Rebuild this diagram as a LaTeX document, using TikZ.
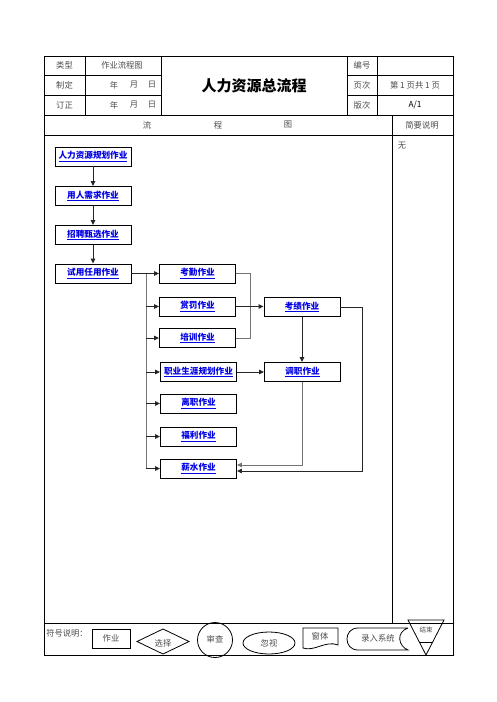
\documentclass[tikz,border=0pt]{standalone}
\usepackage{fontspec}
\newfontfamily\cjk{Noto Sans CJK SC}
\usetikzlibrary{arrows.meta,shapes.geometric}
\begin{document}
\begin{tikzpicture}[x=1pt,y=-1pt,
  tbl/.style={line width=0.8pt, draw=black},
  cell/.style={font=\cjk\fontsize{8.3}{10}\selectfont, text=black!70, inner sep=0pt},
  titletext/.style={font=\cjk\bfseries\fontsize{15}{18}\selectfont, text=black, inner sep=0pt},
  flowbox/.style={draw, line width=0.9pt, minimum width=76pt, minimum height=19pt, inner sep=0pt,
    font=\cjk\bfseries\fontsize{8.6}{10}\selectfont, text=blue!90!black},
  conn/.style={line width=1pt, draw=black!85},
  greyconn/.style={line width=1pt, draw=black!55},
  arr/.style={conn, -{Triangle[length=5pt,width=4.5pt]}},
  greyarr/.style={greyconn, -{Triangle[length=5pt,width=4.5pt]}},
  legendshape/.style={line width=0.8pt, draw=black},
  legendtext/.style={font=\cjk\fontsize{8.3}{10}\selectfont, text=black!70, inner sep=0pt}
]
\useasboundingbox (0,0) rectangle (496,702);
\fill[white] (0,0) rectangle (496,702);

% ---------- table frame ----------
\draw[tbl] (44,56) rectangle (453,655);
\draw[tbl] (44,75) -- (161,75);
\draw[tbl] (44,95) -- (161,95);
\draw[tbl] (347,75) -- (453,75);
\draw[tbl] (347,95) -- (453,95);
\draw[tbl] (44,115) -- (453,115);
\draw[tbl] (44,135) -- (453,135);
\draw[tbl] (44,623) -- (453,623);
\draw[tbl] (85,56) -- (85,115);
\draw[tbl] (161,56) -- (161,115);
\draw[tbl] (347,56) -- (347,115);
\draw[tbl] (377,56) -- (377,115);
\draw[tbl] (392,115) -- (392,623);

% ---------- header texts ----------
\node[cell] (h1) at (64.5,65.5) {类型};
\node[cell] (h2) at (122,65.5) {作业流程图};
\node[cell] (h3) at (362,65.5) {编号};
\node[cell] (h4) at (64.5,85) {制定};
\node[cell] (h5a) at (114,85) {年};
\node[cell] (h5b) at (134,85) {月};
\node[cell] (h5c) at (152,85) {日};
\node[cell] (h6) at (362,85) {页次};
\node[cell] (h7) at (415,85) {第 1 页共 1 页};
\node[cell] (h8) at (64.5,105) {订正};
\node[cell] (h9a) at (114,105) {年};
\node[cell] (h9b) at (134,105) {月};
\node[cell] (h9c) at (152,105) {日};
\node[cell] (h10) at (362,105) {版次};
\node[cell, text=black] (h11) at (415,105) {A/1};
\node[titletext] (title) at (254,86) {人力资源总流程};
\node[cell] (f1) at (147,125) {流};
\node[cell] (f2) at (218,125) {程};
\node[cell] (f3) at (288,125) {图};
\node[cell] (f4) at (422,125) {简要说明};
\node[cell] (none) at (402,145.5) {无};

% ---------- flow nodes ----------
\node[flowbox] (n1) at (93,156.5) {\underline{人力资源规划作业}};
\node[flowbox] (n2) at (93,196) {\underline{用人需求作业}};
\node[flowbox] (n3) at (93,235) {\underline{招聘甄选作业}};
\node[flowbox] (n4) at (93,273.5) {\underline{试用任用作业}};

\node[flowbox] (a1) at (197.5,273.5) {\underline{考勤作业}};
\node[flowbox] (a2) at (197.5,306.5) {\underline{赏罚作业}};
\node[flowbox] (a3) at (197.5,338) {\underline{培训作业}};
\node[flowbox] (a4) at (198.5,372) {\underline{职业生涯规划作业}};
\node[flowbox] (a5) at (198.5,403.5) {\underline{离职作业}};
\node[flowbox] (a6) at (198.5,436.5) {\underline{福利作业}};
\node[flowbox] (a7) at (198.5,468.5) {\underline{薪水作业}};

\node[flowbox] (b1) at (302,307) {\underline{考绩作业}};
\node[flowbox] (b2) at (302.5,372) {\underline{调职作业}};

% ---------- connectors ----------
\draw[arr] (n1) -- (n2);
\draw[arr] (n2) -- (n3);
\draw[arr] (n3) -- (n4);
\draw[arr] (n4) -- (a1);

\coordinate (t) at (146,273.5);
\coordinate (tb) at (146,468.5);
\draw[greyconn] (t) -- (tb);
\draw[arr] (t |- a2.west) -- (a2.west);
\draw[arr] (t |- a3.west) -- (a3.west);
\draw[arr] (t |- a4.west) -- (a4.west);
\draw[arr] (t |- a5.west) -- (a5.west);
\draw[arr] (t |- a6.west) -- (a6.west);
\draw[arr] (tb) -- (a7.west);

\coordinate (c) at (250,300);
\draw[greyconn] (a1.east) -- (c |- a1.east) -- (c |- a3.east) -- (a3.east);
\draw[arr] (a2.east) -- (a2.east -| b1.west);

\draw[arr] (b1.south) -- (b1.south |- b2.north);
\draw[arr] (a4) -- (b2);

\coordinate (r) at (362,471);
\draw[arr] (b1.east) -- (r |- b1.east) -- (r) -- (a7.east |- r);
\coordinate (d) at (302,465);
\draw[greyarr] (b2.south -| d) -- (d) -- (a7.east |- d);

% ---------- legend ----------
\node[legendtext] (lg0) at (67,633) {符号说明：};
\draw[legendshape] (92,629) rectangle (130,648);
\node[legendtext] (lg1) at (111,638.5) {作业};
\draw[legendshape] (137,641.5) -- (163,629) -- (189,641.5) -- (163,654) -- cycle;
\node[legendtext] (lg2) at (163,643) {选择};
\draw[legendshape] (215,640) circle (17.5);
\node[legendtext] (lg3) at (215,639) {审查};
\draw[legendshape] (269,643) ellipse (26 and 11);
\node[legendtext] (lg4) at (269,643) {忽视};
\draw[legendshape] (303,628) -- (338,628) -- (338,645) .. controls (326,640) and (314,652) .. (303,648) -- cycle;
\node[legendtext] (lg5) at (320,636) {窗体};
\draw[legendshape] (408,628) -- (358,628) .. controls (343.3,628) and (343.3,650) .. (358,650) -- (408,650) .. controls (398,646) and (396,632) .. (408,628);
\node[legendtext] (lg6) at (378,638.5) {录入系统};
\draw[legendshape] (408,620) -- (444,620) -- (426,655) -- cycle;
\draw[legendshape] (419.5,642) -- (432.5,642);
\node[legendtext, font=\cjk\fontsize{6.5}{8}\selectfont] (lg7) at (426,630) {结束};
\end{tikzpicture}
\end{document}
